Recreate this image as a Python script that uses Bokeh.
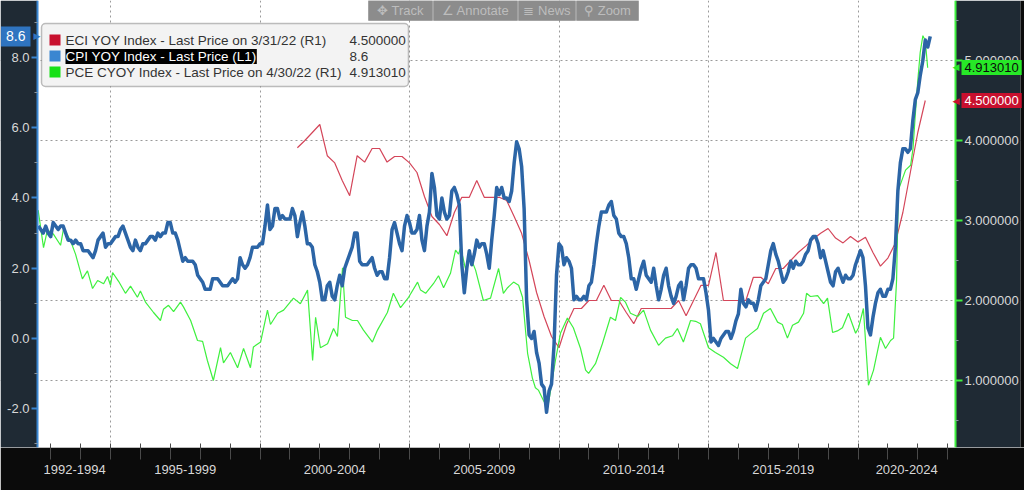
import numpy as np
from bokeh.plotting import figure
from bokeh.models import (Range1d, LinearAxis, FixedTicker, Grid, Label,
                          BoxAnnotation, PrintfTickFormatter)
from bokeh.embed import file_html
from bokeh.resources import INLINE

# ---------------- data ----------------
# CPI YoY (%), monthly, Jul 1992 .. May 2022 (left axis)
cpi_start = 1992 + 7 / 12
cpi_yoy = [
    3.2, 3.1, 3.0, 3.2, 3.0, 2.9,                                   # 1992 Jul-Dec
    3.3, 3.2, 3.1, 3.2, 3.2, 3.0, 2.8, 2.8, 2.7, 2.8, 2.7, 2.7,     # 1993
    2.5, 2.5, 2.5, 2.4, 2.3, 2.5, 2.8, 2.9, 3.0, 2.6, 2.7, 2.7,     # 1994
    2.8, 2.9, 2.9, 3.1, 3.2, 3.0, 2.8, 2.6, 2.5, 2.8, 2.6, 2.5,     # 1995
    2.7, 2.7, 2.8, 2.9, 2.9, 2.8, 3.0, 2.9, 3.0, 3.0, 3.3, 3.3,     # 1996
    3.0, 3.0, 2.8, 2.5, 2.2, 2.3, 2.2, 2.2, 2.2, 2.1, 1.8, 1.7,     # 1997
    1.6, 1.4, 1.4, 1.4, 1.7, 1.7, 1.7, 1.6, 1.5, 1.5, 1.5, 1.6,     # 1998
    1.7, 1.6, 1.7, 2.3, 2.1, 2.0, 2.1, 2.3, 2.6, 2.6, 2.6, 2.7,     # 1999
    2.7, 3.2, 3.8, 3.1, 3.2, 3.7, 3.7, 3.4, 3.5, 3.4, 3.4, 3.4,     # 2000
    3.7, 3.5, 2.9, 3.3, 3.6, 3.2, 2.7, 2.7, 2.6, 2.1, 1.9, 1.6,     # 2001
    1.1, 1.1, 1.5, 1.6, 1.2, 1.1, 1.5, 1.8, 1.5, 2.0, 2.2, 2.4,     # 2002
    2.6, 3.0, 3.0, 2.2, 2.1, 2.1, 2.1, 2.2, 2.3, 2.0, 1.8, 1.9,     # 2003
    1.9, 1.7, 1.7, 2.3, 3.1, 3.3, 3.0, 2.7, 2.5, 3.2, 3.5, 3.3,     # 2004
    3.0, 3.0, 3.1, 3.5, 2.8, 2.5, 3.2, 3.6, 4.7, 4.3, 3.5, 3.4,     # 2005
    4.0, 3.6, 3.4, 3.5, 4.2, 4.3, 4.1, 3.8, 2.1, 1.3, 2.0, 2.5,     # 2006
    2.1, 2.4, 2.8, 2.6, 2.7, 2.7, 2.4, 2.0, 2.8, 3.5, 4.3, 4.1,     # 2007
    4.3, 4.0, 4.0, 3.9, 4.2, 5.0, 5.6, 5.4, 4.9, 3.7, 1.1, 0.1,     # 2008
    0.0, 0.2, -0.4, -0.7, -1.3, -1.4, -2.1, -1.5, -1.3, -0.2, 1.8, 2.7,  # 2009
    2.6, 2.1, 2.3, 2.2, 2.0, 1.1, 1.2, 1.1, 1.1, 1.2, 1.1, 1.5,     # 2010
    1.6, 2.1, 2.7, 3.2, 3.6, 3.6, 3.6, 3.8, 3.9, 3.5, 3.4, 3.0,     # 2011
    2.9, 2.9, 2.7, 2.3, 1.7, 1.7, 1.4, 1.7, 2.0, 2.2, 1.8, 1.7,     # 2012
    1.6, 2.0, 1.5, 1.1, 1.4, 1.8, 2.0, 1.5, 1.2, 1.0, 1.2, 1.5,     # 2013
    1.6, 1.1, 1.5, 2.0, 2.1, 2.1, 2.0, 1.7, 1.7, 1.7, 1.3, 0.8,     # 2014
    -0.1, 0.0, -0.1, -0.2, 0.0, 0.1, 0.2, 0.2, 0.0, 0.2, 0.5, 0.7,  # 2015
    1.4, 1.0, 0.9, 1.1, 1.0, 1.0, 0.8, 1.1, 1.5, 1.6, 1.7, 2.1,     # 2016
    2.5, 2.7, 2.4, 2.2, 1.9, 1.6, 1.7, 1.9, 2.2, 2.0, 2.2, 2.1,     # 2017
    2.1, 2.2, 2.4, 2.5, 2.8, 2.9, 2.9, 2.7, 2.3, 2.5, 2.2, 1.9,     # 2018
    1.6, 1.5, 1.9, 2.0, 1.8, 1.6, 1.8, 1.7, 1.7, 1.8, 2.1, 2.3,     # 2019
    2.5, 2.3, 1.5, 0.3, 0.1, 0.6, 1.0, 1.3, 1.4, 1.2, 1.2, 1.4,     # 2020
    1.4, 1.7, 2.6, 4.2, 5.0, 5.4, 5.4, 5.3, 5.4, 6.2, 6.8, 7.0,     # 2021
    7.5, 7.9, 8.5, 8.3, 8.6,                                        # 2022 Jan-May
]

# ECI YoY (%), quarterly, Q1 2001 .. Q1 2022 (right axis)
eci_start = 2001.25
eci_yoy = [
    3.91, 4.0, 4.1, 4.2, 3.81, 3.72, 3.5, 3.31, 3.81, 3.73,
    3.9, 3.9, 3.73, 3.8, 3.8, 3.72, 3.6, 3.3, 3.05, 2.95,
    2.81, 3.1, 3.29, 3.29, 3.5, 3.29, 3.29, 3.29, 3.25, 3.05,
    2.84, 2.5, 2.1, 1.8, 1.55, 1.41, 1.7, 1.9, 1.9, 2.0,
    2.0, 2.19, 2.0, 2.0, 1.85, 1.71, 1.9, 1.9, 1.9, 1.9,
    1.9, 2.0, 1.81, 2.0, 2.19, 2.19, 2.6, 2.0, 2.0, 2.0,
    2.0, 2.29, 2.29, 2.21, 2.4, 2.4, 2.5, 2.6, 2.68, 2.77,
    2.84, 2.9, 2.78, 2.72, 2.8, 2.73, 2.79, 2.6, 2.43, 2.53,
    2.72, 3.1, 3.6, 4.1, 4.5,
]

# Core PCE YoY (%), (right axis)
pce_dates = [
    1992.58, 1992.76, 1992.89, 1993.09, 1993.33, 1993.43, 1993.66, 1993.83, 1994.06, 1994.23,
    1994.40, 1994.57, 1994.77, 1994.90, 1995.00, 1995.07, 1995.27, 1995.50, 1995.67, 1995.90,
    1996.00, 1996.17, 1996.44, 1996.67, 1996.77, 1996.94, 1997.11, 1997.34, 1997.44, 1997.68,
    1997.91, 1998.08, 1998.24, 1998.44, 1998.68, 1998.78, 1999.01, 1999.25, 1999.45, 1999.68,
    1999.78, 2000.02, 2000.25, 2000.35, 2000.59, 2000.79, 2001.12, 2001.35, 2001.59, 2001.76,
    2001.86, 2002.02, 2002.26, 2002.46, 2002.59, 2002.76, 2002.86, 2003.09, 2003.26, 2003.46,
    2003.76, 2003.93, 2004.26, 2004.46, 2004.70, 2004.97, 2005.27, 2005.37, 2005.54, 2005.80,
    2005.97, 2006.14, 2006.37, 2006.54, 2006.64, 2006.71, 2006.87, 2007.04, 2007.21, 2007.47,
    2007.71, 2007.98, 2008.14, 2008.28, 2008.48, 2008.65, 2008.78, 2008.95, 2009.11, 2009.21,
    2009.31, 2009.48, 2009.62, 2009.72, 2009.88, 2010.05, 2010.28, 2010.48, 2010.72, 2010.89,
    2010.99, 2011.22, 2011.45, 2011.72, 2011.89, 2012.06, 2012.22, 2012.39, 2012.63, 2012.83,
    2013.06, 2013.33, 2013.56, 2013.80, 2013.96, 2014.16, 2014.40, 2014.57, 2014.73, 2015.00,
    2015.23, 2015.50, 2015.74, 2015.97, 2016.07, 2016.24, 2016.40, 2016.64, 2016.84, 2017.07,
    2017.31, 2017.47, 2017.64, 2017.81, 2018.01, 2018.18, 2018.28, 2018.41, 2018.65, 2018.85,
    2018.98, 2019.15, 2019.31, 2019.48, 2019.68, 2019.92, 2020.02, 2020.18, 2020.35, 2020.52,
    2020.75, 2020.92, 2021.09, 2021.19, 2021.29, 2021.35, 2021.59, 2021.76, 2021.84, 2021.92,
    2022.00, 2022.08, 2022.17, 2022.25, 2022.33,
]
pce_yoy = [
    3.13, 2.66, 2.88, 2.83, 2.69, 2.90, 2.75, 2.58, 2.27, 2.37,
    2.15, 2.25, 2.21, 2.30, 2.19, 2.35, 2.24, 2.09, 2.18, 2.04,
    2.12, 1.98, 1.85, 1.75, 1.89, 1.94, 1.86, 1.98, 1.92, 1.75,
    1.50, 1.49, 1.25, 1.00, 1.41, 1.22, 1.35, 1.16, 1.40, 1.16,
    1.42, 1.48, 1.88, 1.70, 1.84, 1.88, 2.03, 1.96, 2.13, 1.25,
    1.79, 1.41, 1.46, 1.65, 1.55, 2.41, 1.79, 1.75, 1.75, 1.63,
    1.48, 1.63, 1.85, 2.09, 1.91, 2.04, 2.23, 2.13, 2.09, 2.21,
    2.31, 2.16, 2.34, 2.63, 2.58, 2.66, 2.40, 2.54, 2.38, 2.00,
    2.03, 2.40, 2.09, 2.16, 2.23, 2.19, 2.04, 1.34, 1.03, 0.91,
    0.88, 0.75, 0.66, 0.88, 1.25, 1.59, 1.78, 1.66, 1.40, 1.13,
    1.09, 1.21, 1.46, 1.79, 1.75, 2.04, 1.98, 1.84, 1.80, 1.88,
    1.63, 1.44, 1.53, 1.56, 1.65, 1.48, 1.75, 1.74, 1.71, 1.41,
    1.35, 1.29, 1.21, 1.15, 1.29, 1.53, 1.58, 1.65, 1.84, 1.90,
    1.73, 1.70, 1.53, 1.69, 1.73, 1.84, 2.09, 2.05, 2.06, 1.96,
    2.03, 1.60, 1.62, 1.66, 1.84, 1.59, 1.66, 1.90, 0.94, 1.13,
    1.54, 1.40, 1.50, 1.53, 2.25, 3.38, 3.63, 3.69, 3.90, 4.34,
    4.75, 5.10, 5.31, 5.25, 4.91,
]

period_labels = ["1992-1994", "1995-1999", "2000-2004", "2005-2009",
                 "2010-2014", "2015-2019", "2020-2024"]
period_centers = [1993.8, 1997.5, 2002.5, 2007.5, 2012.5, 2017.5, 2021.63]
period_bounds = [1995, 2000, 2005, 2010, 2015, 2020]
year_ticks = list(range(1993, 2024))
left_ticks = [-2, 0, 2, 4, 6, 8]
left_minor = [-3, -1, 1, 3, 5, 7, 9]
right_ticks = [1, 2, 3, 4, 5]
right_minor = [0.5, 1.5, 2.5, 3.5, 4.5, 5.5]

legend_names = ["ECI YOY Index - Last Price on 3/31/22 (R1)",
                "CPI YOY Index - Last Price (L1)",
                "PCE CYOY Index - Last Price on 4/30/22 (R1)"]
legend_values = ["4.500000", "8.6", "4.913010"]
last_eci, last_cpi, last_pce = 4.5, 8.6, 4.913010

RED, BLUE, GREEN = "#d4465a", "#2c65a6", "#3ff03f"
SLATE = "#1f2a34"
FONT = "Liberation Sans"


# layout helper: page pixel column -> year coordinate (29.9 px per year, 1995 at px 110)
def px_to_year(px):
    return 1995 + (px - 110) / 29.9


# ---------------- figure ----------------
# The frame spans the whole width so that the terminal-style side panels,
# their axes and the last-value flags can all be drawn inside it.
p = figure(frame_width=1024, frame_height=447,
           x_range=Range1d(px_to_year(0), px_to_year(1024)),
           y_range=Range1d(-3.105, 9.624),
           output_backend="svg", toolbar_location=None,
           min_border_left=0, min_border_right=0, min_border_top=0, min_border_bottom=43,
           background_fill_color="white", border_fill_color="#0b0b0b",
           outline_line_color=None)
p.extra_y_ranges = {"right": Range1d(0.1625, 5.75)}
for g in p.grid:
    g.visible = False

# grids
p.add_layout(Grid(dimension=0, ticker=FixedTicker(ticks=period_bounds),
                  grid_line_color="#9a9a9a", grid_line_dash="2 3", grid_line_width=1))
p.add_layout(Grid(dimension=1, ticker=FixedTicker(ticks=right_ticks), y_range_name="right",
                  grid_line_color="#9a9a9a", grid_line_dash="2 3", grid_line_width=1))

# side panels
p.add_layout(BoxAnnotation(right=px_to_year(37), fill_color=SLATE, fill_alpha=1.0,
                           line_color=None, level="underlay"))
p.add_layout(BoxAnnotation(left=px_to_year(955), right=px_to_year(1020), fill_color=SLATE,
                           fill_alpha=1.0, line_color=None, level="underlay"))
p.add_layout(BoxAnnotation(left=px_to_year(1020), fill_color="#0b0b0b",
                           fill_alpha=1.0, line_color=None, level="underlay"))

# bottom axis
xa = p.xaxis[0]
xa.ticker = FixedTicker(ticks=period_centers, minor_ticks=year_ticks)
xa.major_label_overrides = {c: l for c, l in zip(period_centers, period_labels)}
xa.bounds = (px_to_year(38), px_to_year(955))
xa.major_tick_in = 0
xa.major_tick_out = 0
xa.minor_tick_in = 4
xa.minor_tick_out = 12
xa.minor_tick_line_color = "#4a4a4a"
xa.axis_line_color = "#bdbdbd"
xa.major_label_standoff = 5
xa.major_label_text_color = "#d8d8d8"
xa.major_label_text_font = FONT
xa.major_label_text_font_size = "13px"

# left axis (drawn at the edge of the left panel)
ya = p.yaxis[0]
ya.fixed_location = px_to_year(37)
ya.ticker = FixedTicker(ticks=left_ticks, minor_ticks=left_minor)
ya.formatter = PrintfTickFormatter(format="%.1f")
ya.axis_line_color = "#3a86d1"
ya.axis_line_width = 2
ya.major_tick_line_color = "#3a86d1"
ya.major_tick_line_width = 2
ya.major_tick_in = 0
ya.major_tick_out = 6
ya.minor_tick_line_color = "#8a96a0"
ya.minor_tick_in = 0
ya.minor_tick_out = 3
ya.major_label_standoff = 2
ya.major_label_text_color = "#d8d8d8"
ya.major_label_text_font = FONT
ya.major_label_text_font_size = "13px"

# right axis (drawn at the edge of the right panel)
ra = LinearAxis(y_range_name="right", fixed_location=px_to_year(955),
                ticker=FixedTicker(ticks=right_ticks, minor_ticks=right_minor),
                formatter=PrintfTickFormatter(format="%.6f"))
ra.axis_line_color = "#3ff03f"
ra.axis_line_width = 2
ra.major_tick_line_color = "#3ff03f"
ra.major_tick_line_width = 2
ra.major_tick_in = 0
ra.major_tick_out = 7
ra.minor_tick_line_color = "#8a96a0"
ra.minor_tick_in = 0
ra.minor_tick_out = 3
ra.major_label_standoff = 2
ra.major_label_text_color = "#d8d8d8"
ra.major_label_text_font = FONT
ra.major_label_text_font_size = "13px"
p.add_layout(ra, "right")

# series
cpi_dates = cpi_start + np.arange(len(cpi_yoy)) / 12.0
eci_dates = eci_start + 0.25 * np.arange(len(eci_yoy))
p.line(eci_dates, eci_yoy, y_range_name="right", line_color=RED, line_width=1.2)
p.line(pce_dates, pce_yoy, y_range_name="right", line_color=GREEN, line_width=1.2)
p.line(cpi_dates, cpi_yoy, line_color=BLUE, line_width=3.5, line_join="round")

# ---------------- legend box (frame px, y measured up from frame bottom) ----------------
p.add_layout(BoxAnnotation(left=41, right=408, top=424, bottom=361,
                           left_units="screen", right_units="screen",
                           top_units="screen", bottom_units="screen",
                           fill_color="#f3f3f3", fill_alpha=1.0,
                           line_color="#2a2a2a", line_width=1.5, border_radius=4,
                           level="overlay"))
sq_colors = ["#c8102e", "#3a86d1", "#17e017"]
row_y = [407, 391, 375]
for i in range(3):
    p.add_layout(BoxAnnotation(left=49, right=60, top=row_y[i] + 6, bottom=row_y[i] - 5,
                               left_units="screen", right_units="screen",
                               top_units="screen", bottom_units="screen",
                               fill_color=sq_colors[i], fill_alpha=1.0, line_color=None,
                               level="overlay"))
    hl = (i == 1)
    p.add_layout(Label(x=65, y=row_y[i], x_units="screen", y_units="screen",
                       text=legend_names[i], text_baseline="middle",
                       text_font=FONT, text_font_size="13.5px",
                       text_color="#ffffff" if hl else "#333333",
                       background_fill_color="#000000" if hl else None,
                       level="overlay"))
    p.add_layout(Label(x=349, y=row_y[i], x_units="screen", y_units="screen",
                       text=legend_values[i], text_baseline="middle",
                       text_font=FONT, text_font_size="13.5px", text_color="#333333",
                       level="overlay"))

# ---------------- terminal toolbar strip ----------------
tb_boxes = [(368, 432), (433, 517), (518, 575), (576, 638)]
tb_texts = ["\u2725 Track", "\u2220 Annotate", "\u2263 News", "\u26b2 Zoom"]
for (l, r), t in zip(tb_boxes, tb_texts):
    p.add_layout(BoxAnnotation(left=l, right=r, top=447, bottom=427,
                               left_units="screen", right_units="screen",
                               top_units="screen", bottom_units="screen",
                               fill_color="#8c8c8c", fill_alpha=1.0,
                               line_color="#555555", line_width=1, level="overlay"))
    p.add_layout(Label(x=(l + r) / 2, y=437, x_units="screen", y_units="screen",
                       text=t, text_align="center", text_baseline="middle",
                       text_font=FONT, text_font_size="13px", text_color="#bdbdbd",
                       level="overlay"))

# ---------------- last-value flags ----------------
p.add_layout(Label(x=30, y=last_cpi, x_units="screen", y_units="data",
                   text="8.6", text_align="right", text_baseline="middle",
                   text_font=FONT, text_font_size="14px", text_color="white",
                   background_fill_color="#2f74c0", padding=5, level="overlay"))
p.add_layout(Label(x=33, y=last_cpi, x_units="screen", y_units="data",
                   text="\u25b6", text_align="left", text_baseline="middle",
                   text_font="DejaVu Sans", text_font_size="9px", text_color="#2f74c0",
                   level="overlay"))
flag_specs = [(last_pce, "4.913010", "#27e827", "#0b0b0b"),
              (last_eci, "4.500000", "#c8102e", "white")]
for val, txt, bg, fg in flag_specs:
    p.add_layout(Label(x=961, y=val, x_units="screen", y_units="data", y_range_name="right",
                       text=txt, text_align="left", text_baseline="middle",
                       text_font=FONT, text_font_size="13px", text_color=fg,
                       background_fill_color=bg, padding=3, level="overlay"))
    p.add_layout(Label(x=959, y=val, x_units="screen", y_units="data", y_range_name="right",
                       text="\u25c0", text_align="right", text_baseline="middle",
                       text_font="DejaVu Sans", text_font_size="9px", text_color=bg,
                       level="overlay"))

open("out.html", "w").write(file_html(p, INLINE))
